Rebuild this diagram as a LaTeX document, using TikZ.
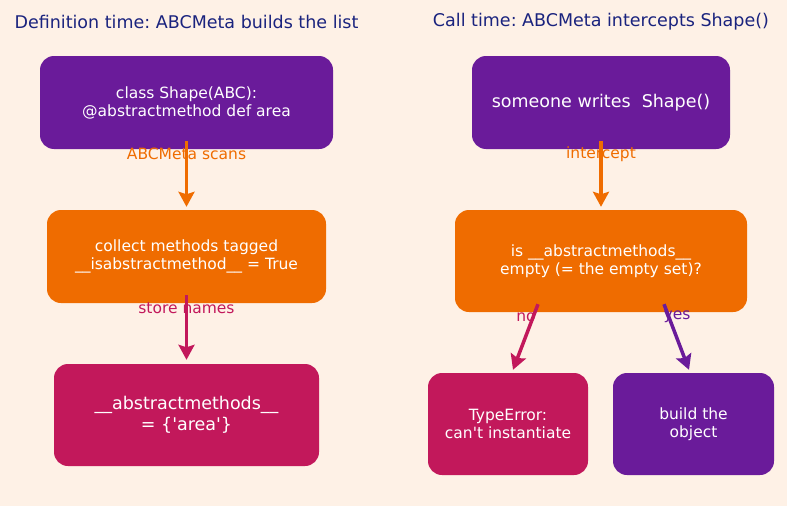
\documentclass[tikz,border=0pt]{standalone}
\usepackage{fontspec}
\setmainfont{DejaVu Sans}
\usepackage{xcolor}
\usetikzlibrary{arrows.meta, positioning, calc}
\frenchspacing
\definecolor{bgcream}{HTML}{FEF1E6}
\definecolor{deeppurple}{HTML}{6A1B9A}
\definecolor{deeporange}{HTML}{EF6C00}
\definecolor{deeppink}{HTML}{C2185B}
\definecolor{navy}{HTML}{1A237E}
\tikzstyle{box} = [rectangle, rounded corners=14pt, text=white, align=center, font=\fontsize{15.5}{18}\selectfont, inner sep=0pt]
\tikzstyle{bigbox} = [box, font=\fontsize{17.5}{21}\selectfont]
\tikzstyle{lbl} = [font=\fontsize{15.5}{18}\selectfont, inner sep=0pt]
\tikzstyle{title} = [font=\fontsize{17.5}{21}\selectfont, text=navy, inner sep=0pt]
\tikzstyle{arrow} = [line width=3.5pt,-{Stealth[length=15pt,width=16pt,inset=2.5pt]}]

\begin{document}
\begin{tikzpicture}[x=1pt, y=-1pt]
        % Background
        \fill[bgcream] (0,0) rectangle (787,506);
        \useasboundingbox (0,0) rectangle (787,506);

        % Titles
        \node[title] (lefttitle) at (186.5,22) {Definition time: ABCMeta builds the list};
        \node[title] (righttitle) at (601,22) {Call time: ABCMeta intercepts Shape()};

        % Left column
        \node[box, fill=deeppurple, minimum width=293pt, minimum height=93pt] (defn) at (186.5,102.5)
          {class Shape(ABC):\\@abstractmethod def area};
        \node[box, fill=deeporange, minimum width=279pt, minimum height=93pt] (collect) at (186.5,256.5)
          {collect methods tagged\\\_\_isabstractmethod\_\_ = True};
        \node[bigbox, fill=deeppink, minimum width=265pt, minimum height=102pt] (store) at (186.5,415)
          {\_\_abstractmethods\_\_\\= \{\textquotesingle area\textquotesingle\}};

        % Right column
        \node[bigbox, fill=deeppurple, minimum width=258pt, minimum height=93pt] (call) at (601,102.5)
          {someone writes\ \ Shape()};
        \node[box, fill=deeporange, minimum width=292pt, minimum height=102pt] (check) at (601,261)
          {is \_\_abstractmethods\_\_\\empty (= the empty set)?};
        \node[box, fill=deeppink, minimum width=160pt, minimum height=102pt] (typeerr) at (508,424)
          {TypeError:\\can\textquotesingle t instantiate};
        \node[box, fill=deeppurple, minimum width=161pt, minimum height=102pt] (build) at (693.5,424)
          {build the\\object};

        % Edge labels
        \node[lbl, text=deeporange] (scanlbl) at ([yshift=-5pt]defn.south) {ABCMeta scans};
        \node[lbl, text=deeppink] (storelbl) at ([yshift=-5pt]collect.south) {store names};
        \node[lbl, text=deeporange] (interlbl) at ([yshift=-5pt]call.south) {intercept};
        \node[lbl, text=deeppink] (nolbl) at ([xshift=-75pt,yshift=-5pt]check.south) {no};
        \node[lbl, text=deeppurple] (yeslbl) at ([xshift=76pt,yshift=-5pt]check.south) {yes};

        % Arrows
        \draw[arrow, deeporange] ([yshift=8pt]defn.south) -- ([yshift=3pt]collect.north);
        \draw[arrow, deeppink] ([yshift=8pt]collect.south) -- ([yshift=4pt]store.north);
        \draw[arrow, deeporange] ([yshift=8pt]call.south) -- ([yshift=3pt]collect.north -| call.south);
        \draw[arrow, deeppink] ([xshift=-63pt,yshift=8pt]check.south) -- ([xshift=5pt,yshift=3pt]typeerr.north);
        \draw[arrow, deeppurple] ([xshift=63pt,yshift=8pt]check.south) -- ([xshift=-4.5pt,yshift=3pt]build.north);
      \end{tikzpicture}
\end{document}
